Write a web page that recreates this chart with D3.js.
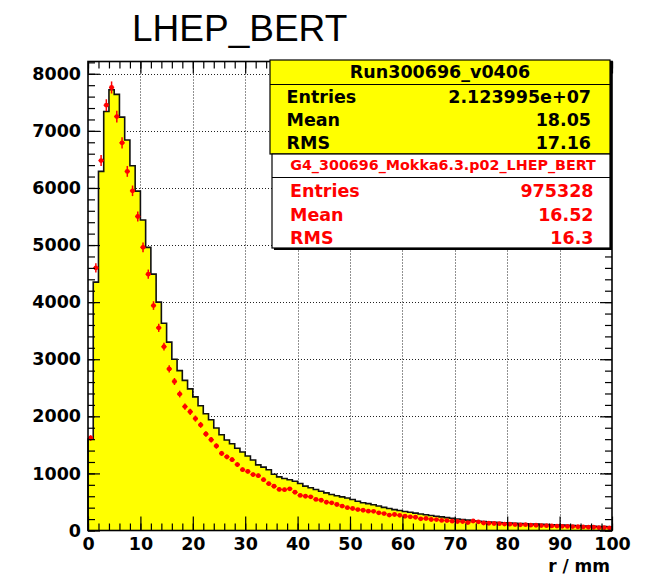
<!DOCTYPE html>
<html>
<head>
<meta charset="utf-8">
<script src="https://cdn.jsdelivr.net/npm/d3@7"></script>
<style>
  html, body { margin: 0; padding: 0; background: #fff; }
  svg { display: block; }
</style>
</head>
<body>
<svg id="chart" width="650" height="578"></svg>
<script>
// Radial distribution r / mm, 100 bins of 1 mm from 0 to 100
const binEdgesLow = d3.range(0, 100, 1);

// Measured data histogram (yellow, Run300696_v0406)
const dataCounts = [
  1600, 4350, 6290, 7340, 7720, 7640, 7240, 6840, 6390, 5945,
  5440, 4960, 4490, 4000, 3630, 3300, 3000, 2800, 2630, 2480,
  2340, 2185, 2045, 1940, 1795, 1678, 1585, 1520, 1440, 1375,
  1305, 1235, 1150, 1110, 1065, 985, 940, 910, 890, 862,
  822, 778, 748, 717, 688, 659, 630, 610, 589, 568,
  542, 512, 486, 470, 452, 428, 405, 385, 366, 350,
  334, 320, 305, 290, 276, 262, 250, 238, 226, 214,
  202, 191, 181, 171, 162, 155, 149, 144, 139, 135,
  131, 127, 123, 119, 115, 111, 107, 104, 100, 97,
  94, 90, 87, 84, 80, 77, 74, 71, 68, 65
];

// Simulation (red points, G4_300696_Mokka6.3.p02_LHEP_BERT)
const simCounts = [
  1620, 4600, 6480, 7450, 7760, 7250, 6790, 6290, 5950, 5500,
  4960, 4490, 3940, 3550, 3220, 2830, 2610, 2390, 2170, 2080,
  1960, 1850, 1690, 1590, 1480, 1350, 1290, 1240, 1155, 1065,
  1035, 980, 960, 890, 820, 775, 720, 715, 730, 670,
  615, 600, 590, 545, 530, 495, 485, 455, 428, 400,
  385, 367, 355, 338, 336, 309, 297, 270, 280, 266,
  250, 239, 232, 205, 210, 193, 191, 176, 174, 163,
  158, 156, 138, 166, 152, 131, 127, 123, 120, 113,
  110, 104, 100, 102, 94, 92, 86, 85, 80, 78,
  74, 72, 68, 66, 62, 58, 57, 52, 50, 46
];

const xTickValues = [0, 10, 20, 30, 40, 50, 60, 70, 80, 90, 100];
const yTickValues = [0, 1000, 2000, 3000, 4000, 5000, 6000, 7000, 8000];

const dataStats = { title: "Run300696_v0406", rows: [["Entries", "2.123995e+07"], ["Mean", "18.05"], ["RMS", "17.16"]] };
const simStats = { title: "G4_300696_Mokka6.3.p02_LHEP_BERT", rows: [["Entries", "975328"], ["Mean", "16.52"], ["RMS", "16.3"]] };

const svg = d3.select("#chart");
const frame = { left: 88, right: 612, top: 61.5, bottom: 530.5 };

const x = d3.scaleLinear().domain([0, 100]).range([frame.left, frame.right]);
const y = d3.scaleLinear().domain([0, 8215]).range([frame.bottom, frame.top]);

const boldFont = "'DejaVu Sans', sans-serif";

// Title
svg.append("text")
  .attr("x", 132).attr("y", 41)
  .attr("font-family", "'Liberation Sans', Arial, sans-serif")
  .attr("font-size", 37)
  .attr("fill", "#000")
  .text("LHEP_BERT");

// Dotted grid
const grid = svg.append("g").attr("stroke", "#222").attr("stroke-width", 1).attr("stroke-dasharray", "1 2");
grid.selectAll("line.gx").data(xTickValues.filter(d => d > 0 && d < 100)).join("line")
  .attr("x1", d => Math.round(x(d)) + 0.5).attr("x2", d => Math.round(x(d)) + 0.5)
  .attr("y1", frame.top).attr("y2", frame.bottom);
grid.selectAll("line.gy").data(yTickValues.filter(d => d > 0)).join("line")
  .attr("y1", d => Math.round(y(d)) + 0.5).attr("y2", d => Math.round(y(d)) + 0.5)
  .attr("x1", frame.left).attr("x2", frame.right);

// Step histogram
const stepPoints = [];
binEdgesLow.forEach((lo, i) => {
  stepPoints.push([x(lo), y(dataCounts[i])]);
  stepPoints.push([x(lo + 1), y(dataCounts[i])]);
});
const line = d3.line();
const fillPts = [[x(0), y(0)], ...stepPoints, [x(100), y(0)]];
svg.append("path").attr("d", line(fillPts) + "Z").attr("fill", "#ffff00").attr("stroke", "none");
svg.append("path").attr("d", line(fillPts)).attr("fill", "none")
  .attr("stroke", "#111").attr("stroke-width", 1.6).attr("stroke-linejoin", "miter");

// Simulation points with error bars
const errScale = 1.2;
const pts = svg.append("g").attr("stroke", "#ff0000").attr("fill", "#ff0000").attr("stroke-width", 1.5);
binEdgesLow.forEach((lo, i) => {
  const v = simCounts[i];
  const cx = x(lo + 0.5), cy = y(v);
  const e = errScale * Math.sqrt(v);
  pts.append("line").attr("x1", x(lo)).attr("x2", x(lo + 1)).attr("y1", cy).attr("y2", cy);
  pts.append("line").attr("x1", cx).attr("x2", cx).attr("y1", y(v + e)).attr("y2", y(v - e));
  pts.append("circle").attr("cx", cx).attr("cy", cy).attr("r", 2.4).attr("stroke", "none");
});

// Axes (ticks inside the frame, ROOT style)
const axisG = svg.append("g");
const xMinor = d3.range(0, 101, 2);
const yMinor = d3.range(0, 8201, 200);

function styleAxis(g) {
  g.select(".domain").remove();
  g.selectAll(".tick line").attr("stroke", "#000").attr("stroke-width", 1.2);
}

// bottom
axisG.append("g").attr("transform", `translate(0,${frame.bottom})`)
  .call(d3.axisBottom(x).tickValues(xMinor).tickSizeInner(-7).tickSizeOuter(0).tickFormat(""))
  .call(styleAxis);
axisG.append("g").attr("transform", `translate(0,${frame.bottom})`)
  .call(d3.axisBottom(x).tickValues(xTickValues).tickSizeInner(-14).tickSizeOuter(0).tickPadding(7).tickFormat(d3.format("d")))
  .call(styleAxis)
  .call(g => g.selectAll("text").attr("font-family", boldFont).attr("font-weight", "bold").attr("font-size", 17.5).attr("fill", "#000"));
// top
axisG.append("g").attr("transform", `translate(0,${frame.top})`)
  .call(d3.axisTop(x).tickValues(xMinor).tickSizeInner(-7).tickSizeOuter(0).tickFormat(""))
  .call(styleAxis);
axisG.append("g").attr("transform", `translate(0,${frame.top})`)
  .call(d3.axisTop(x).tickValues(xTickValues).tickSizeInner(-12).tickSizeOuter(0).tickFormat(""))
  .call(styleAxis);
// left
axisG.append("g").attr("transform", `translate(${frame.left},0)`)
  .call(d3.axisLeft(y).tickValues(yMinor).tickSizeInner(-7).tickSizeOuter(0).tickFormat(""))
  .call(styleAxis);
axisG.append("g").attr("transform", `translate(${frame.left},0)`)
  .call(d3.axisLeft(y).tickValues(yTickValues).tickSizeInner(-12).tickSizeOuter(0).tickPadding(7).tickFormat(d3.format("d")))
  .call(styleAxis)
  .call(g => g.selectAll("text").attr("font-family", boldFont).attr("font-weight", "bold").attr("font-size", 17.5).attr("fill", "#000"));
// right
axisG.append("g").attr("transform", `translate(${frame.right},0)`)
  .call(d3.axisRight(y).tickValues(yMinor).tickSizeInner(-7).tickSizeOuter(0).tickFormat(""))
  .call(styleAxis);
axisG.append("g").attr("transform", `translate(${frame.right},0)`)
  .call(d3.axisRight(y).tickValues(yTickValues).tickSizeInner(-12).tickSizeOuter(0).tickFormat(""))
  .call(styleAxis);

// Frame
svg.append("rect")
  .attr("x", frame.left).attr("y", frame.top)
  .attr("width", frame.right - frame.left).attr("height", frame.bottom - frame.top)
  .attr("fill", "none").attr("stroke", "#000").attr("stroke-width", 1.6);

// Axis title
svg.append("text")
  .attr("x", 610).attr("y", 572)
  .attr("text-anchor", "end")
  .attr("font-family", boldFont).attr("font-weight", "bold").attr("font-size", 17)
  .text("r / mm");

// Statistics boxes
function statBox(stats, box, opts) {
  const g = svg.append("g");
  g.append("rect").attr("x", box.x + 2).attr("y", box.y + 2).attr("width", box.w).attr("height", box.h).attr("fill", "#000");
  g.append("rect").attr("x", box.x).attr("y", box.y).attr("width", box.w).attr("height", box.h)
    .attr("fill", opts.fill).attr("stroke", "#000").attr("stroke-width", 1.2);
  g.append("line").attr("x1", box.x).attr("x2", box.x + box.w)
    .attr("y1", box.y + opts.headH).attr("y2", box.y + opts.headH)
    .attr("stroke", "#000").attr("stroke-width", 1.2);
  g.append("text")
    .attr("x", box.x + box.w / 2 + opts.titleDx).attr("y", box.y + opts.titleY)
    .attr("text-anchor", "middle")
    .attr("font-family", boldFont).attr("font-weight", "bold").attr("font-size", opts.titleSize)
    .attr("fill", opts.color)
    .text(stats.title);
  stats.rows.forEach((r, i) => {
    const by = box.y + opts.rowY0 + i * opts.rowStep;
    g.append("text").attr("x", box.x + opts.padL).attr("y", by)
      .attr("font-family", boldFont).attr("font-weight", "bold").attr("font-size", opts.rowSize)
      .attr("fill", opts.color).text(r[0]);
    g.append("text").attr("x", box.x + box.w - opts.padR).attr("y", by)
      .attr("text-anchor", "end")
      .attr("font-family", boldFont).attr("font-weight", "bold").attr("font-size", opts.rowSize)
      .attr("fill", opts.color).text(r[1]);
  });
}

statBox(dataStats, { x: 270, y: 60, w: 340, h: 94 },
  { fill: "#ffff00", color: "#000", headH: 24.5, titleY: 17.7, titleDx: 0, titleSize: 17.5,
    rowY0: 43.3, rowStep: 23, rowSize: 17.5, padL: 16.5, padR: 19 });
statBox(simStats, { x: 272, y: 154, w: 338, h: 94 },
  { fill: "#ffffff", color: "#ff0000", headH: 23.5, titleY: 16, titleDx: 2, titleSize: 14.3,
    rowY0: 42.7, rowStep: 23.8, rowSize: 17.5, padL: 18, padR: 16.5 });
</script>
</body>
</html>
